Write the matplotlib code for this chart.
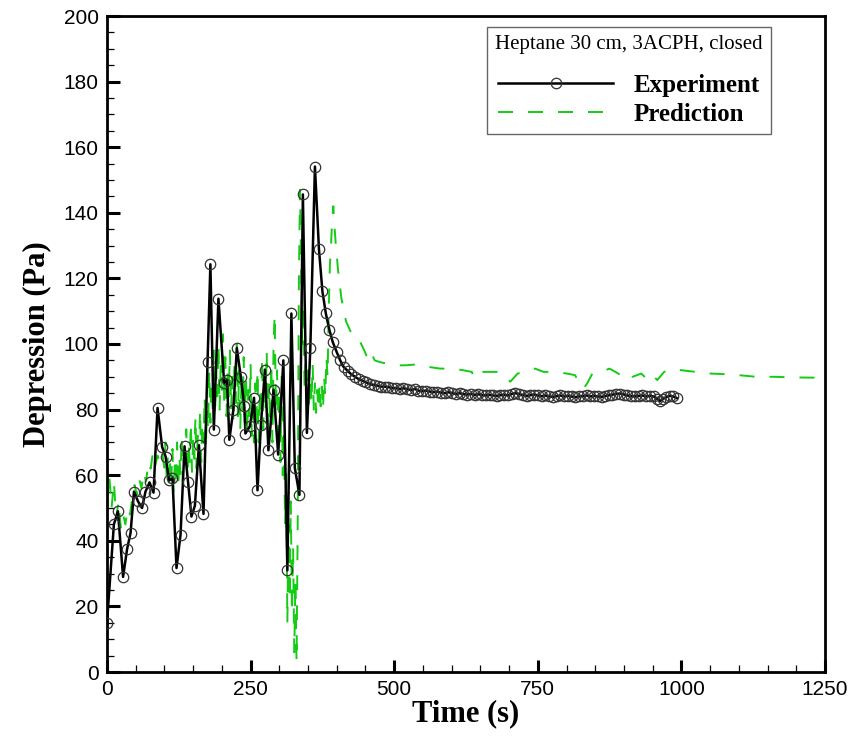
import numpy as np
import matplotlib
matplotlib.use("Agg")
import matplotlib.pyplot as plt
from matplotlib.ticker import MultipleLocator

# experiment (time in s, depression in Pa)
exp_time = [0, 12, 19, 28, 35, 41, 47, 54, 61, 67, 74, 81, 88, 96, 102, 108, 114, 121, 128, 135,
            141, 147, 153, 160, 168, 175, 180, 186, 194, 204, 209, 213, 220, 226, 233, 239, 241,
            249, 256, 262, 268, 275, 281, 290, 298, 307, 314, 321, 327, 335, 341, 348, 354, 362,
            369, 375, 381, 387, 393, 400, 406, 412, 419, 425, 432, 438, 445, 451, 458, 464, 471,
            477, 484, 490, 497, 503, 510, 516, 523, 529, 536, 542, 549, 555, 562, 568, 575, 581,
            588, 594, 601, 607, 614, 620, 627, 633, 640, 646, 653, 659, 666, 672, 679, 685, 692,
            698, 705, 711, 718, 724, 731, 737, 744, 750, 757, 763, 770, 776, 783, 789, 796, 802,
            809, 815, 822, 828, 835, 841, 848, 854, 861, 867, 874, 880, 887, 893, 900, 906, 913,
            919, 926, 932, 939, 945, 952, 958, 963, 968, 974, 980, 986, 992]
exp_dep = [15, 45, 49, 29, 37.5, 42.4, 55, 52, 50, 55, 57.8, 54.7, 80.5, 68.6, 65.7, 58.4, 59, 31.7,
           41.8, 68.8, 58, 47.4, 50.7, 69.1, 48.2, 94.4, 124.3, 73.9, 113.8, 88.1, 89, 70.8, 80,
           98.8, 90, 81.2, 72.7, 75, 83.6, 55.4, 75.4, 92.2, 67.6, 86.1, 66.3, 95, 31, 109.3, 62.2,
           54, 145.6, 72.9, 98.8, 154.1, 128.9, 116.1, 109.3, 104.4, 100.6, 97.5, 95, 93, 91.8,
           90.8, 90, 89.3, 88.8, 88.3, 87.8, 87.5, 87.3, 87, 87, 86.8, 86.6, 86.5, 86.3, 86.5,
           86.2, 86, 86.3, 85.8, 85.6, 85.8, 85.5, 85.3, 85.5, 85.2, 85, 85.3, 85, 84.8, 85,
           84.7, 84.6, 84.8, 84.5, 84.7, 84.4, 84.3, 84.5, 84.3, 84.2, 84.4, 84.5, 84.3, 84.8,
           85, 84.7, 84.4, 84.2, 84.4, 84.6, 84.3, 84.1, 84.3, 84, 83.9, 84.1, 84.3, 84, 84.2,
           84, 83.8, 84, 84.1, 84.3, 84, 84.2, 84, 83.9, 84.1, 84.3, 84.5, 84.8, 84.9, 84.6,
           84.3, 84.1, 84, 84.2, 84.3, 84, 84.2, 84, 83.2, 82.6, 83.3, 83.8, 84.2, 84, 83.5]

# prediction
pred_time = [0, 4, 8, 12, 16, 20, 24, 28, 32, 36, 40, 44, 48, 52, 56, 60, 64, 68, 72, 76, 80, 84,
             88, 92, 96,
             100, 102, 104, 106, 108, 110, 112, 114, 116, 118, 120, 122, 124, 126, 128, 130, 132,
             134, 136, 138, 140, 142, 144, 146, 148, 150, 152, 154, 156, 158, 160, 162, 164, 166,
             168, 170, 172, 174, 176, 178, 180, 182, 184, 186, 188, 190, 192, 194, 196, 198, 200,
             202, 204, 206, 208, 210, 212, 214, 216, 218, 220, 222, 224, 226, 228, 230, 232, 234,
             236, 238, 240, 242, 244, 246, 248, 250, 252, 254, 256, 258, 260, 262, 264, 266, 268,
             270, 272, 274, 276, 278, 280, 282, 284, 286, 288, 290, 292, 294, 296, 298, 300, 302,
             304, 306, 308, 310, 312, 314, 316, 318, 320, 322, 324, 326, 328, 330, 332, 334, 336,
             338, 340, 342, 344, 346, 348, 350, 352, 354, 356, 358, 360, 362, 364, 366, 368, 370,
             372, 374, 376, 378, 380, 382, 384, 386, 388, 390, 392, 394, 396, 398, 400, 402,
             408, 416, 426, 437, 448, 455, 461, 466, 475,
             487, 500, 520, 540, 560, 580, 600, 620, 635, 640, 646, 655, 670, 685, 695, 702,
             715, 730, 745, 760, 780, 800, 815, 825, 830, 836, 845, 860, 875, 890, 905, 915,
             930, 942, 950, 958, 970, 985, 1000, 1025, 1050, 1075, 1100, 1130, 1160, 1200, 1250]
pred_dep = [52, 60, 50, 58, 47, 52, 44, 48, 45, 50, 48, 53, 57, 54, 59, 56, 61, 58, 64, 62, 67, 63,
            66, 64, 67,
            62, 70, 58, 66, 56, 64, 59, 68, 55, 63, 58, 70, 56, 66, 60, 72, 58, 67, 62, 74, 60,
            70, 64, 76, 61, 71, 65, 78, 62, 72, 66, 80, 64, 76, 70, 84, 68, 80, 74, 92, 76, 88,
            80, 98, 78, 92, 84, 100, 80, 94, 86, 103, 82, 96, 78, 92, 84, 98, 80, 90, 76, 95,
            82, 100, 78, 92, 74, 88, 80, 96, 76, 90, 72, 86, 78, 94, 72, 84, 70, 88, 74, 92, 70,
            86, 78, 96, 74, 90, 80, 98, 72, 88, 76, 94, 70, 100, 109, 80, 92, 68, 86, 64, 90,
            60, 74, 45, 62, 15, 45, 22, 52, 18, 38, 6, 28, 3, 45, 118, 147, 124, 100, 112, 86,
            96, 82, 92, 80, 90, 82, 94, 80, 88, 79, 86, 80, 88, 81, 87, 80, 90, 84, 96, 90, 110,
            124, 130, 138, 142, 136, 131, 127, 123,
            114, 107, 103, 102, 98, 95, 97, 95, 94.5,
            94, 93.5, 93.5, 93.8, 93, 92.5, 92.5, 92, 91.5, 89.5, 90, 91.5, 91.5, 91.5, 90, 88.5,
            91, 91.5, 92.5, 91.5, 91.5, 91, 90.5, 87, 86.5, 88, 91, 91.5, 92.5, 91, 89, 90,
            91, 89, 90.5, 89, 91.5, 92.5, 92, 91.5, 91, 90.8, 90.5, 90, 90, 89.8, 89.7]

plt.rcParams["lines.scale_dashes"] = False

fig = plt.figure(figsize=(8.66, 7.36), dpi=100)
ax = fig.add_axes([107 / 866, 1 - 672 / 736, 718 / 866, 656 / 736])

ax.plot(exp_time, exp_dep, color="black", lw=1.8, marker="o", ms=7.5, mfc="none",
        mec="#333333", mew=0.9, label="Experiment", zorder=3)
ax.plot(pred_time, pred_dep, color="#14cc14", lw=1.4, dashes=(10.8, 10.8),
        label="Prediction", zorder=2)

ax.set_xlim(0, 1250)
ax.set_ylim(0, 200)
ax.xaxis.set_major_locator(MultipleLocator(250))
ax.xaxis.set_minor_locator(MultipleLocator(50))
ax.yaxis.set_major_locator(MultipleLocator(20))
ax.yaxis.set_minor_locator(MultipleLocator(5))
ax.tick_params(which="major", direction="in", length=9, width=2.2, labelsize=15, pad=6)
ax.tick_params(which="minor", direction="in", length=5, width=0.9)
for lab in ax.get_xticklabels() + ax.get_yticklabels():
    lab.set_family("Liberation Sans")
for sp in ax.spines.values():
    sp.set_linewidth(2.0)

ax.set_xlabel("Time (s)", family="Liberation Serif", weight="bold", fontsize=22, labelpad=0)
ax.set_ylabel("Depression (Pa)", family="Liberation Serif", weight="bold", fontsize=22,
              labelpad=8)

leg = ax.legend(loc="upper left", bbox_to_anchor=((487 - 107) / 718, 1 - (27 - 16) / 656),
                title="Heptane 30 cm, 3ACPH, closed",
                prop={"family": "Liberation Serif", "weight": "bold", "size": 18},
                title_fontproperties={"family": "Liberation Serif", "size": 15},
                handlelength=4.6, handletextpad=0.8, borderpad=0.33, labelspacing=0.26,
                fancybox=False, framealpha=1, edgecolor="#666666", borderaxespad=0)
leg.get_frame().set_linewidth(1.0)
# extra room between the legend title and the entries
leg._legend_box.sep = 14

fig.savefig("out.png", dpi=100)
